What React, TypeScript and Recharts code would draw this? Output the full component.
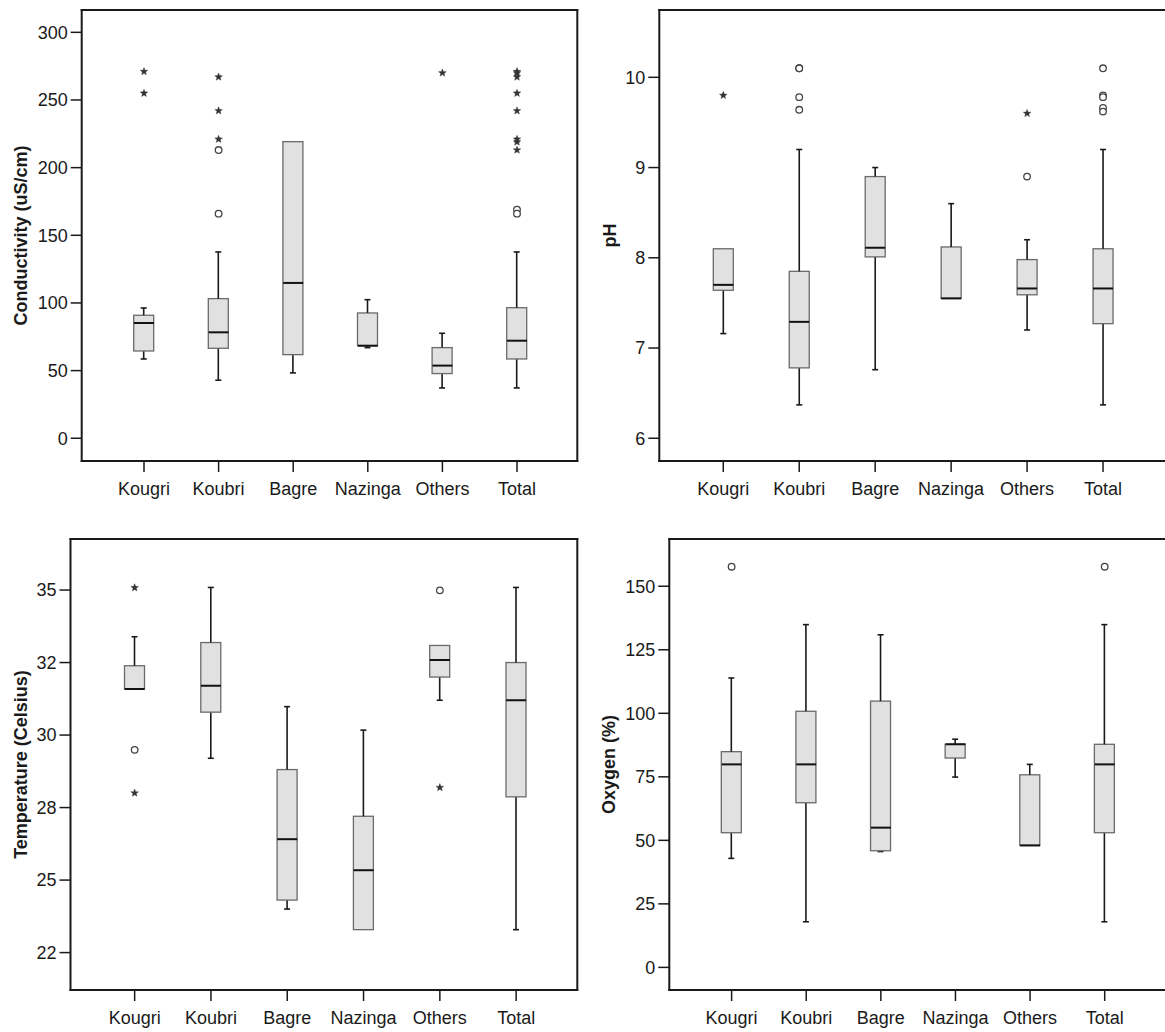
import React from 'react';
import { ComposedChart, Bar, Scatter, XAxis, YAxis } from 'recharts';

const FONT = '"Liberation Sans", Arial, Helvetica, sans-serif';
const INK = '#1a1a1a';
const BOX_FILL = '#e1e1e1';
const BOX_STROKE = '#6a6a6a';

const categories = ['Kougri', 'Koubri', 'Bagre', 'Nazinga', 'Others', 'Total'];

// Conductivity (uS/cm)
const condMin = [58.6, 42.9, 48.3, 67.0, 37.2, 37.2];
const condQ1 = [64.5, 66.5, 61.8, 68.4, 47.8, 58.6];
const condMedian = [85.2, 78.3, 114.8, 68.4, 53.7, 72.1];
const condQ3 = [90.9, 103.2, 219.2, 92.6, 67.0, 96.5];
const condMax = [96.3, 137.7, 219.2, 102.4, 77.6, 137.7];
const condCircles = [[], [213, 166], [], [], [], [169, 166]];
const condStars = [[271, 255], [267, 242, 221], [], [], [270], [271, 270, 267, 255, 242, 221, 219, 213]];
const condTicks = [0, 50, 100, 150, 200, 250, 300];
const condTickLabels = ['0', '50', '100', '150', '200', '250', '300'];

// pH
const phMin = [7.16, 6.37, 6.76, 7.55, 7.2, 6.37];
const phQ1 = [7.64, 6.78, 8.01, 7.55, 7.59, 7.27];
const phMedian = [7.7, 7.29, 8.11, 7.55, 7.66, 7.66];
const phQ3 = [8.1, 7.85, 8.9, 8.12, 7.98, 8.1];
const phMax = [8.1, 9.2, 9.0, 8.6, 8.2, 9.2];
const phCircles = [[], [10.1, 10.1, 9.78, 9.64], [], [], [8.9], [10.1, 9.8, 9.78, 9.66, 9.62]];
const phStars = [[9.8], [], [], [], [9.6], []];
const phTicks = [6, 7, 8, 9, 10];
const phTickLabels = ['6', '7', '8', '9', '10'];

// Temperature (Celsius)
const tempMin = [31.59, 29.2, 24.0, 23.29, 31.2, 23.29];
const tempQ1 = [31.59, 30.79, 24.31, 23.29, 32.0, 27.87];
const tempMedian = [31.59, 31.7, 26.41, 25.34, 32.59, 31.2];
const tempQ3 = [32.39, 33.19, 28.81, 27.2, 33.09, 32.5];
const tempMax = [33.39, 35.09, 30.98, 30.17, 33.09, 35.09];
const tempCircles = [[29.49], [], [], [], [34.99], []];
const tempStars = [[35.08, 28.0], [], [], [], [28.19], []];
const tempTicks = [22.5, 25, 27.5, 30, 32.5, 35];
const tempTickLabels = ['22', '25', '28', '30', '32', '35'];

// Oxygen (%)
const oxyMin = [42.9, 17.95, 45.6, 74.9, 48.0, 17.95];
const oxyQ1 = [53.0, 64.8, 45.9, 82.4, 48.0, 53.0];
const oxyMedian = [79.9, 79.9, 55.0, 87.8, 48.0, 79.9];
const oxyQ3 = [84.9, 100.8, 104.8, 87.8, 75.8, 87.8];
const oxyMax = [113.9, 134.9, 130.9, 89.8, 79.9, 134.9];
const oxyCircles = [[157.7], [], [], [], [], [157.7]];
const oxyStars = [[], [], [], [], [], []];
const oxyTicks = [0, 25, 50, 75, 100, 125, 150];
const oxyTickLabels = ['0', '25', '50', '75', '100', '125', '150'];

type Row = Record<string, string | number>;

function buildRows(
  mins: number[], q1s: number[], meds: number[], q3s: number[], maxs: number[],
  circles: number[][], stars: number[][]
): Row[] {
  return categories.map((name, i) => {
    const row: Row = {
      name,
      base: mins[i],
      wLow: q1s[i] - mins[i],
      box: q3s[i] - q1s[i],
      wHigh: maxs[i] - q3s[i],
      median: meds[i],
    };
    circles[i].forEach((v, k) => { row['c' + k] = v; });
    stars[i].forEach((v, k) => { row['s' + k] = v; });
    return row;
  });
}

const WhiskerLow = (props: any) => {
  const { x, y, width, height } = props;
  if (!(height > 0.6)) return <g />;
  const cx = x + width / 2;
  const yb = y + height;
  return (
    <g>
      <line x1={cx} y1={y} x2={cx} y2={yb} stroke={INK} strokeWidth={1.6} />
      <line x1={cx - 3} y1={yb} x2={cx + 3} y2={yb} stroke={INK} strokeWidth={1.6} />
    </g>
  );
};

const WhiskerHigh = (props: any) => {
  const { x, y, width, height } = props;
  if (!(height > 0.6)) return <g />;
  const cx = x + width / 2;
  return (
    <g>
      <line x1={cx} y1={y} x2={cx} y2={y + height} stroke={INK} strokeWidth={1.6} />
      <line x1={cx - 3} y1={y} x2={cx + 3} y2={y} stroke={INK} strokeWidth={1.6} />
    </g>
  );
};

const BoxShape = (props: any) => {
  const { x, y, width, height } = props;
  if (!(height >= 0)) return <g />;
  return <rect x={x} y={y} width={width} height={height} fill={BOX_FILL} stroke={BOX_STROKE} strokeWidth={1.3} />;
};

const MedianMark = (props: any) => {
  const { cx, cy } = props;
  if (cx == null || cy == null || isNaN(cy)) return <g />;
  return <line x1={cx - 10} x2={cx + 10} y1={cy} y2={cy} stroke="#111" strokeWidth={2} />;
};

const CircleMark = (props: any) => {
  const { cx, cy } = props;
  if (cx == null || cy == null || isNaN(cy)) return <g />;
  return <circle cx={cx} cy={cy} r={3.3} fill="#fff" stroke="#444" strokeWidth={1.3} />;
};

const StarMark = (props: any) => {
  const { cx, cy } = props;
  if (cx == null || cy == null || isNaN(cy)) return <g />;
  const pts: string[] = [];
  for (let k = 0; k < 10; k++) {
    const r = k % 2 === 0 ? 4 : 1.7;
    const a = -Math.PI / 2 + (k * Math.PI) / 5;
    pts.push(`${cx + r * Math.cos(a)},${cy + r * Math.sin(a)}`);
  }
  return <polygon points={pts.join(' ')} fill="#333" stroke="#333" strokeWidth={0.4} />;
};

type PanelProps = {
  left: number; top: number; width: number; height: number;
  marginTop: number; marginRight: number; marginBottom: number;
  yAxisWidth: number; labelX: number; padL: number; padR: number;
  domain: [number, number]; ticks: number[]; tickLabels: string[]; yLabel: string;
  mins: number[]; q1s: number[]; meds: number[]; q3s: number[]; maxs: number[];
  circles: number[][]; stars: number[][];
};

const X_AXIS_H = 40;
const FRAME_AXIS = 1;

const Panel = (p: PanelProps) => {
  const rows = buildRows(p.mins, p.q1s, p.meds, p.q3s, p.maxs, p.circles, p.stars);
  const nC = Math.max(...p.circles.map((a) => a.length));
  const nS = Math.max(...p.stars.map((a) => a.length));
  const plotTop = p.marginTop;
  const plotH = p.height - p.marginTop - p.marginBottom - X_AXIS_H;
  const labelY = plotTop + plotH / 2;
  const axisLine = { stroke: INK, strokeWidth: 2, strokeLinecap: 'square' as const };
  const tickStyle = { fill: INK, fontSize: 18, fontFamily: FONT };
  return (
    <div style={{ position: 'absolute', left: p.left, top: p.top, width: p.width, height: p.height }}>
      <ComposedChart
        width={p.width}
        height={p.height}
        data={rows}
        margin={{
          top: p.marginTop - FRAME_AXIS,
          right: p.marginRight - FRAME_AXIS,
          bottom: p.marginBottom,
          left: 0,
        }}
      >
        <XAxis
          dataKey="name"
          type="category"
          height={X_AXIS_H}
          padding={{ left: p.padL, right: p.padR }}
          axisLine={axisLine}
          tickLine={{ stroke: INK, strokeWidth: 1.5 }}
          tickSize={11}
          tickMargin={10}
          tick={tickStyle}
          interval={0}
        />
        <XAxis
          xAxisId="top"
          orientation="top"
          dataKey="name"
          type="category"
          height={FRAME_AXIS}
          padding={{ left: p.padL, right: p.padR }}
          axisLine={axisLine}
          tick={false}
          tickLine={false}
        />
        <YAxis
          type="number"
          width={p.yAxisWidth}
          domain={p.domain}
          allowDataOverflow
          ticks={p.ticks}
          interval={0}
          tickFormatter={(v: number) => {
            const idx = p.ticks.indexOf(v);
            return idx >= 0 ? p.tickLabels[idx] : String(v);
          }}
          axisLine={axisLine}
          tickLine={{ stroke: INK, strokeWidth: 1.5 }}
          tickSize={11}
          tickMargin={3}
          tick={tickStyle}
          label={() => (
            <text
              x={p.labelX}
              y={labelY}
              transform={`rotate(-90, ${p.labelX}, ${labelY})`}
              textAnchor="middle"
              dominantBaseline="central"
              fontFamily={FONT}
              fontSize={18}
              fontWeight="bold"
              fill={INK}
            >
              {p.yLabel}
            </text>
          )}
        />
        <YAxis
          yAxisId="right"
          orientation="right"
          type="number"
          width={FRAME_AXIS}
          domain={[0, 1]}
          axisLine={axisLine}
          tick={false}
          tickLine={false}
        />
        <Bar dataKey="base" stackId="b" barSize={20} fill="transparent" isAnimationActive={false} />
        <Bar dataKey="wLow" stackId="b" barSize={20} shape={WhiskerLow} isAnimationActive={false} />
        <Bar dataKey="box" stackId="b" barSize={20} shape={BoxShape} isAnimationActive={false} />
        <Bar dataKey="wHigh" stackId="b" barSize={20} shape={WhiskerHigh} isAnimationActive={false} />
        <Scatter dataKey="median" shape={MedianMark} isAnimationActive={false} />
        {Array.from({ length: nC }, (_, k) => (
          <Scatter key={'c' + k} dataKey={'c' + k} shape={CircleMark} isAnimationActive={false} />
        ))}
        {Array.from({ length: nS }, (_, k) => (
          <Scatter key={'s' + k} dataKey={'s' + k} shape={StarMark} isAnimationActive={false} />
        ))}
      </ComposedChart>
    </div>
  );
};

export default function App() {
  return (
    <div style={{ position: 'absolute', left: 0, top: 0, width: 1165, height: 1032, overflow: 'hidden', background: '#fff' }}>
      <Panel
        left={0} top={0} width={590} height={515}
        marginTop={10} marginRight={12.7} marginBottom={14}
        yAxisWidth={81.7} labelX={20.5} padL={25} padR={23}
        domain={[-16.8, 316.5]} ticks={condTicks} tickLabels={condTickLabels}
        yLabel="Conductivity (uS/cm)"
        mins={condMin} q1s={condQ1} meds={condMedian} q3s={condQ3} maxs={condMax}
        circles={condCircles} stars={condStars}
      />
      <Panel
        left={580} top={0} width={600} height={515}
        marginTop={10} marginRight={13} marginBottom={14}
        yAxisWidth={79.3} labelX={30} padL={26} padR={26}
        domain={[5.748, 10.746]} ticks={phTicks} tickLabels={phTickLabels}
        yLabel="pH"
        mins={phMin} q1s={phQ1} meds={phMedian} q3s={phQ3} maxs={phMax}
        circles={phCircles} stars={phStars}
      />
      <Panel
        left={0} top={520} width={590} height={512}
        marginTop={19} marginRight={12.7} marginBottom={2}
        yAxisWidth={70.5} labelX={20.5} padL={26} padR={23}
        domain={[21.21, 36.76]} ticks={tempTicks} tickLabels={tempTickLabels}
        yLabel="Temperature (Celsius)"
        mins={tempMin} q1s={tempQ1} meds={tempMedian} q3s={tempQ3} maxs={tempMax}
        circles={tempCircles} stars={tempStars}
      />
      <Panel
        left={580} top={520} width={600} height={512}
        marginTop={19} marginRight={13} marginBottom={2}
        yAxisWidth={89.3} labelX={29} padL={25} padR={25}
        domain={[-8.9, 168.6]} ticks={oxyTicks} tickLabels={oxyTickLabels}
        yLabel="Oxygen (%)"
        mins={oxyMin} q1s={oxyQ1} meds={oxyMedian} q3s={oxyQ3} maxs={oxyMax}
        circles={oxyCircles} stars={oxyStars}
      />
    </div>
  );
}
